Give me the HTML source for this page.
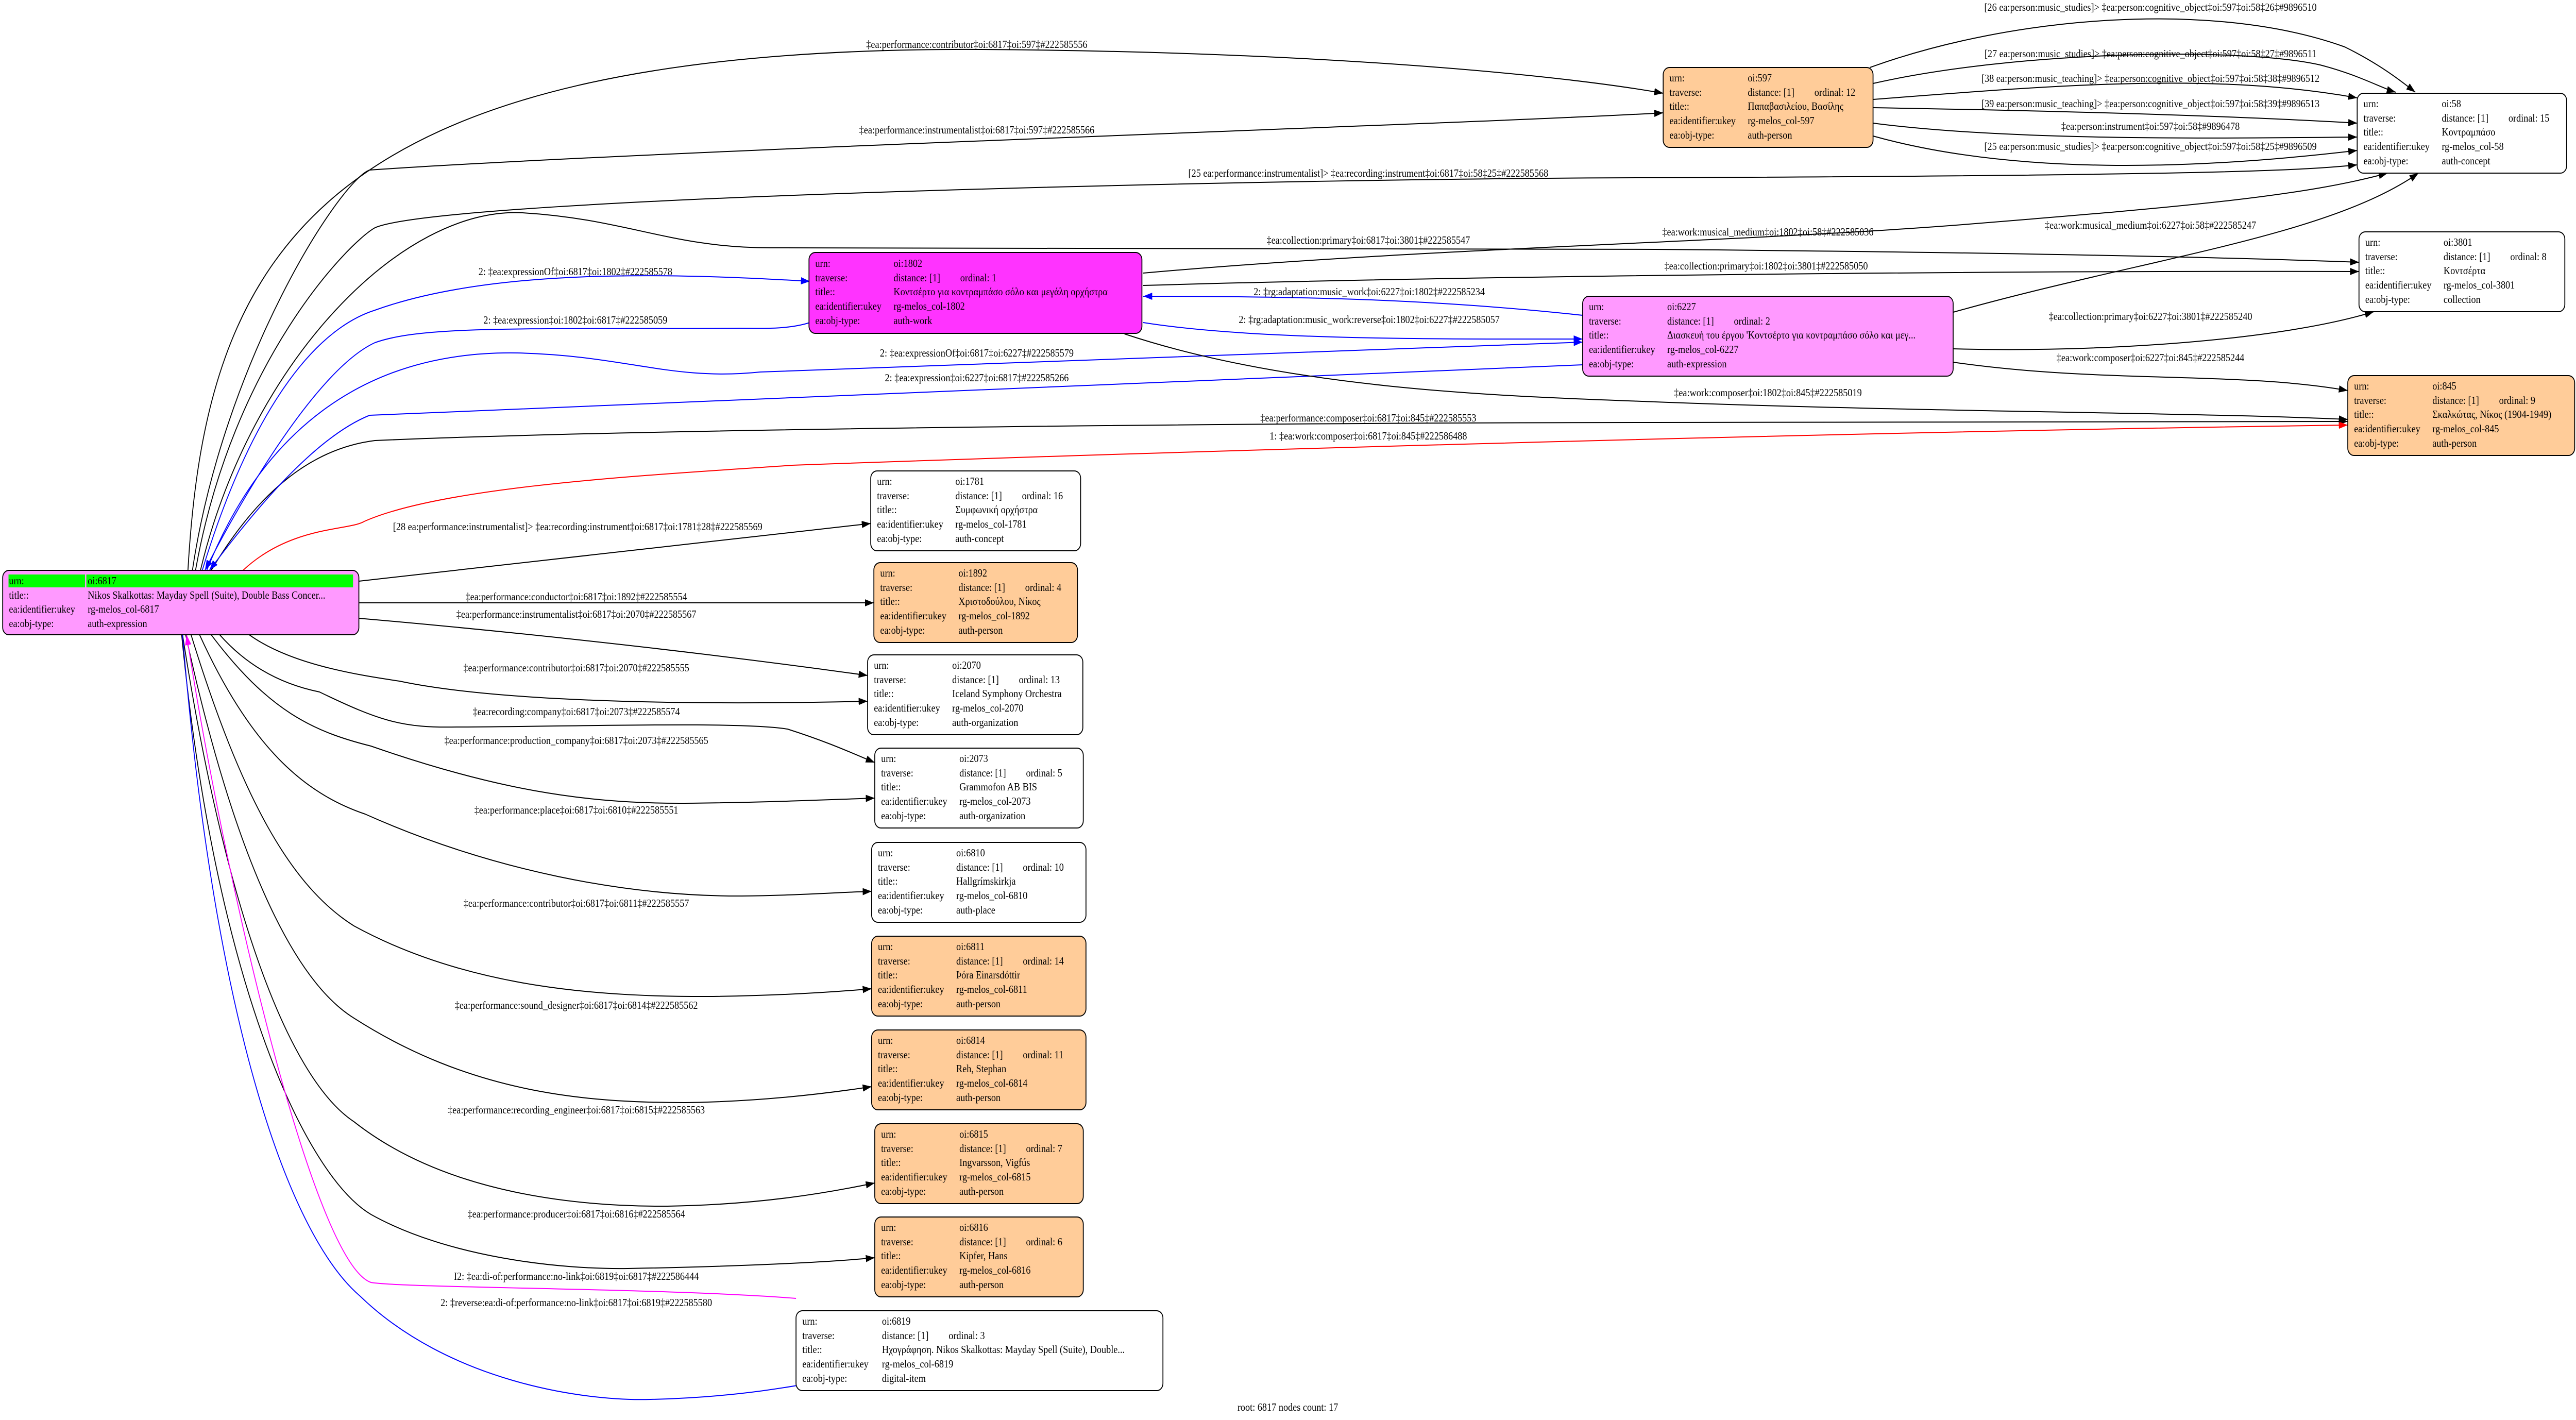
<!DOCTYPE html>
<html><head><meta charset="utf-8"><style>
html,body{margin:0;padding:0;background:#fff;overflow:hidden;width:100%;height:100%}
svg{display:block;width:100vw;height:100vh}
text{font-family:"Liberation Serif","Noto Serif CJK SC",serif;font-size:21px;fill:#000}
.l{text-anchor:middle}
</style></head><body>
<svg viewBox="0 0 5757 2756" preserveAspectRatio="none" xmlns="http://www.w3.org/2000/svg">
<defs>
<marker id="ak" markerUnits="userSpaceOnUse" markerWidth="22" markerHeight="16" refX="20" refY="7" orient="auto"><path d="M0,0 L20,7 L0,14 z" fill="#000"/></marker>
<marker id="ab" markerUnits="userSpaceOnUse" markerWidth="22" markerHeight="16" refX="20" refY="7" orient="auto"><path d="M0,0 L20,7 L0,14 z" fill="#00f"/></marker>
<marker id="ar" markerUnits="userSpaceOnUse" markerWidth="22" markerHeight="16" refX="20" refY="7" orient="auto"><path d="M0,0 L20,7 L0,14 z" fill="#f00"/></marker>
<marker id="am" markerUnits="userSpaceOnUse" markerWidth="22" markerHeight="16" refX="20" refY="7" orient="auto"><path d="M0,0 L20,7 L0,14 z" fill="#f0f"/></marker>
</defs>
<rect width="5757" height="2756" fill="#fff"/>

<g fill="none" stroke-width="2">
<path stroke="#000" marker-end="url(#ak)" d="M420,1107 C 460,500 700,90 2190,96 C 2900,100 3450,140 3717,181"/>
<path stroke="#000" marker-end="url(#ak)" d="M430,1107 C 500,700 760,350 826,330 C 1500,290 3300,240 3717,219"/>
<path stroke="#000" marker-end="url(#ak)" d="M437,1107 C 520,700 780,470 838,442 C 1000,380 3000,345 3700,345 C 5000,340 5150,330 5268,320"/>
<path stroke="#000" marker-end="url(#ak)" d="M448,1107 C 560,700 900,400 1168,413 C 1400,425 1500,481 1722,481 L 3700,484 C 4500,490 5000,500 5272,509"/>
<path stroke="#000" marker-end="url(#ak)" d="M472,1107 C 580,950 700,870 838,855 C 1500,830 3000,820 3700,820 L 5247,818"/>
<path stroke="#f00" marker-end="url(#ar)" d="M543,1107 C 650,1020 780,1030 814,1012 C 1000,940 1500,920 1770,903 C 2500,880 4000,840 5247,825"/>
<path stroke="#00f" marker-end="url(#ab)" d="M452,1107 C 560,800 700,640 838,602 C 1100,520 1500,530 1810,546"/>
<path stroke="#00f" marker-end="url(#ab)" d="M1810,626 C 1760,640 1700,637 1652,637 C 1200,640 950,630 838,665 C 700,720 520,1000 458,1107"/>
<path stroke="#00f" marker-end="url(#ab)" d="M462,1107 C 580,850 800,680 1156,685 C 1400,690 1500,740 1699,722 L 3537,664"/>
<path stroke="#00f" marker-end="url(#ab)" d="M3537,708 L 826,806 C 700,850 560,1000 468,1107"/>
<path stroke="#00f" marker-end="url(#ab)" d="M3537,612 C 3200,580 2900,575 2555,575"/>
<path stroke="#00f" marker-end="url(#ab)" d="M2555,626 C 2800,660 3200,658 3537,658"/>
<path stroke="#000" marker-end="url(#ak)" d="M2513,648 C 2900,760 3400,770 3700,780 C 4300,800 4900,800 5247,814"/>
<path stroke="#000" marker-end="url(#ak)" d="M2555,530 C 3200,480 3900,470 4400,435 C 4900,400 5150,380 5336,336"/>
<path stroke="#000" marker-end="url(#ak)" d="M4365,606 C 4800,500 5200,460 5405,336"/>
<path stroke="#000" marker-end="url(#ak)" d="M2555,554 C 3300,535 4500,525 5272,527"/>
<path stroke="#000" marker-end="url(#ak)" d="M4365,677 C 4700,685 5100,660 5305,605"/>
<path stroke="#000" marker-end="url(#ak)" d="M4365,703 C 4700,745 5000,720 5247,758"/>
<path stroke="#000" marker-end="url(#ak)" d="M4179,131 C 4500,30 4950,0 5240,91 C 5320,125 5370,160 5398,179"/>
<path stroke="#000" marker-end="url(#ak)" d="M4186,162 C 4500,100 5000,90 5185,126 C 5270,145 5320,170 5354,179"/>
<path stroke="#000" marker-end="url(#ak)" d="M4186,193 C 4600,165 4950,140 5268,190"/>
<path stroke="#000" marker-end="url(#ak)" d="M4186,209 C 4600,215 5000,225 5268,239"/>
<path stroke="#000" marker-end="url(#ak)" d="M4186,239 C 4500,275 5000,268 5268,266"/>
<path stroke="#000" marker-end="url(#ak)" d="M4186,264 C 4500,340 4900,330 5268,292"/>
<path stroke="#000" marker-end="url(#ak)" d="M802,1128 L 1946,1016"/>
<path stroke="#000" marker-end="url(#ak)" d="M802,1170 L 1953,1170"/>
<path stroke="#000" marker-end="url(#ak)" d="M802,1200 C 1200,1230 1600,1270 1939,1311"/>
<path stroke="#000" marker-end="url(#ak)" d="M557,1232 C 650,1290 800,1310 893,1322 C 1100,1360 1500,1370 1939,1361"/>
<path stroke="#000" marker-end="url(#ak)" d="M491,1232 C 560,1300 640,1330 714,1343 C 850,1400 900,1413 1020,1411 C 1300,1410 1650,1400 1760,1415 C 1850,1440 1900,1460 1955,1480"/>
<path stroke="#000" marker-end="url(#ak)" d="M472,1232 C 600,1380 700,1420 829,1448 C 1100,1530 1300,1560 1530,1559 C 1700,1558 1850,1552 1955,1549"/>
<path stroke="#000" marker-end="url(#ak)" d="M446,1232 C 560,1450 680,1540 816,1580 C 1100,1690 1400,1740 1658,1739 C 1780,1738 1870,1732 1948,1730"/>
<path stroke="#000" marker-end="url(#ak)" d="M427,1232 C 540,1550 650,1720 791,1797 C 1050,1920 1350,1935 1594,1934 C 1750,1932 1870,1925 1948,1919"/>
<path stroke="#000" marker-end="url(#ak)" d="M415,1232 C 520,1650 650,1900 791,1976 C 1050,2120 1300,2140 1531,2140 C 1700,2138 1850,2122 1948,2109"/>
<path stroke="#000" marker-end="url(#ak)" d="M408,1232 C 500,1750 640,2090 791,2177 C 1000,2320 1300,2342 1492,2341 C 1700,2338 1850,2315 1955,2296"/>
<path stroke="#000" marker-end="url(#ak)" d="M406,1232 C 480,1900 680,2280 829,2357 C 1000,2440 1250,2464 1403,2462 C 1650,2458 1850,2450 1955,2441"/>
<path stroke="#f0f" marker-end="url(#am)" d="M1779,2520 C 1500,2500 900,2500 829,2489 C 700,2450 500,1700 417,1232"/>
<path stroke="#00f" marker-end="url(#ab)" d="M408,1232 C 480,2000 650,2400 804,2515 C 1000,2680 1300,2720 1454,2716 C 1650,2712 1780,2690 1881,2673"/>
</g>

<g>
<text class="l" x="2183" y="93">‡ea:performance:contributor‡oi:6817‡oi:597‡#222585556</text>
<text class="l" x="2183" y="259">‡ea:performance:instrumentalist‡oi:6817‡oi:597‡#222585566</text>
<text class="l" x="3058" y="343">[25 ea:performance:instrumentalist]&gt; ‡ea:recording:instrument‡oi:6817‡oi:58‡25‡#222585568</text>
<text class="l" x="3058" y="473">‡ea:collection:primary‡oi:6817‡oi:3801‡#222585547</text>
<text class="l" x="3951" y="457">‡ea:work:musical_medium‡oi:1802‡oi:58‡#222585036</text>
<text class="l" x="3947" y="523">‡ea:collection:primary‡oi:1802‡oi:3801‡#222585050</text>
<text class="l" x="1286" y="534">2: ‡ea:expressionOf‡oi:6817‡oi:1802‡#222585578</text>
<text class="l" x="1286" y="628">2: ‡ea:expression‡oi:1802‡oi:6817‡#222585059</text>
<text class="l" x="3060" y="573">2: ‡rg:adaptation:music_work‡oi:6227‡oi:1802‡#222585234</text>
<text class="l" x="3060" y="627">2: ‡rg:adaptation:music_work:reverse‡oi:1802‡oi:6227‡#222585057</text>
<text class="l" x="2183" y="692">2: ‡ea:expressionOf‡oi:6817‡oi:6227‡#222585579</text>
<text class="l" x="2183" y="740">2: ‡ea:expression‡oi:6227‡oi:6817‡#222585266</text>
<text class="l" x="3951" y="769">‡ea:work:composer‡oi:1802‡oi:845‡#222585019</text>
<text class="l" x="3058" y="818">‡ea:performance:composer‡oi:6817‡oi:845‡#222585553</text>
<text class="l" x="3058" y="853">1: ‡ea:work:composer‡oi:6817‡oi:845‡#222586488</text>
<text class="l" x="4806" y="444">‡ea:work:musical_medium‡oi:6227‡oi:58‡#222585247</text>
<text class="l" x="4806" y="621">‡ea:collection:primary‡oi:6227‡oi:3801‡#222585240</text>
<text class="l" x="4806" y="701">‡ea:work:composer‡oi:6227‡oi:845‡#222585244</text>
<text class="l" x="4806" y="21">[26 ea:person:music_studies]&gt; ‡ea:person:cognitive_object‡oi:597‡oi:58‡26‡#9896510</text>
<text class="l" x="4806" y="111">[27 ea:person:music_studies]&gt; ‡ea:person:cognitive_object‡oi:597‡oi:58‡27‡#9896511</text>
<text class="l" x="4806" y="159">[38 ea:person:music_teaching]&gt; ‡ea:person:cognitive_object‡oi:597‡oi:58‡38‡#9896512</text>
<text class="l" x="4806" y="208">[39 ea:person:music_teaching]&gt; ‡ea:person:cognitive_object‡oi:597‡oi:58‡39‡#9896513</text>
<text class="l" x="4806" y="252">‡ea:person:instrument‡oi:597‡oi:58‡#9896478</text>
<text class="l" x="4806" y="291">[25 ea:person:music_studies]&gt; ‡ea:person:cognitive_object‡oi:597‡oi:58‡25‡#9896509</text>
<text class="l" x="1291" y="1029">[28 ea:performance:instrumentalist]&gt; ‡ea:recording:instrument‡oi:6817‡oi:1781‡28‡#222585569</text>
<text class="l" x="1288" y="1165">‡ea:performance:conductor‡oi:6817‡oi:1892‡#222585554</text>
<text class="l" x="1288" y="1199">‡ea:performance:instrumentalist‡oi:6817‡oi:2070‡#222585567</text>
<text class="l" x="1288" y="1303">‡ea:performance:contributor‡oi:6817‡oi:2070‡#222585555</text>
<text class="l" x="1288" y="1388">‡ea:recording:company‡oi:6817‡oi:2073‡#222585574</text>
<text class="l" x="1288" y="1444">‡ea:performance:production_company‡oi:6817‡oi:2073‡#222585565</text>
<text class="l" x="1288" y="1579">‡ea:performance:place‡oi:6817‡oi:6810‡#222585551</text>
<text class="l" x="1288" y="1760">‡ea:performance:contributor‡oi:6817‡oi:6811‡#222585557</text>
<text class="l" x="1288" y="1958">‡ea:performance:sound_designer‡oi:6817‡oi:6814‡#222585562</text>
<text class="l" x="1288" y="2161">‡ea:performance:recording_engineer‡oi:6817‡oi:6815‡#222585563</text>
<text class="l" x="1288" y="2363">‡ea:performance:producer‡oi:6817‡oi:6816‡#222585564</text>
<text class="l" x="1288" y="2484">I2: ‡ea:di-of:performance:no-link‡oi:6819‡oi:6817‡#222586444</text>
<text class="l" x="1288" y="2535">2: ‡reverse:ea:di-of:performance:no-link‡oi:6817‡oi:6819‡#222585580</text>
</g>

<g stroke="#000" stroke-width="2">
<rect x="3717" y="131" width="469" height="155" rx="14" fill="#ffcc99"/>
<rect x="5268" y="181" width="468" height="155" rx="14" fill="#fff"/>
<rect x="5272" y="450" width="460" height="155" rx="14" fill="#fff"/>
<rect x="1808" y="490" width="744" height="157" rx="14" fill="#ff33ff"/>
<rect x="3537" y="575" width="828" height="155" rx="14" fill="#ff99ff"/>
<rect x="5247" y="729" width="507" height="155" rx="14" fill="#ffcc99"/>
<rect x="1946" y="914" width="469" height="155" rx="14" fill="#fff"/>
<rect x="1953" y="1092" width="455" height="155" rx="14" fill="#ffcc99"/>
<rect x="1939" y="1271" width="481" height="155" rx="14" fill="#fff"/>
<rect x="1955" y="1452" width="466" height="155" rx="14" fill="#fff"/>
<rect x="1948" y="1635" width="479" height="155" rx="14" fill="#fff"/>
<rect x="1948" y="1817" width="479" height="155" rx="14" fill="#ffcc99"/>
<rect x="1948" y="1999" width="479" height="155" rx="14" fill="#ffcc99"/>
<rect x="1955" y="2181" width="466" height="155" rx="14" fill="#ffcc99"/>
<rect x="1955" y="2362" width="466" height="155" rx="14" fill="#ffcc99"/>
<rect x="1779" y="2544" width="820" height="155" rx="14" fill="#fff"/>
<rect x="6" y="1107" width="796" height="125" rx="14" fill="#ff99ff"/>
</g>
<rect x="19" y="1115" width="171" height="25" fill="#00ff00"/>
<rect x="193" y="1115" width="596" height="25" fill="#00ff00"/>

<g transform="translate(20,1107)"><text y="27">urn:</text><text y="55">title::</text><text y="82">ea:identifier:ukey</text><text y="110">ea:obj-type:</text>
<text x="176" y="27">oi:6817</text><text x="176" y="55">Nikos Skalkottas: Mayday Spell (Suite), Double Bass Concer...</text><text x="176" y="82">rg-melos_col-6817</text><text x="176" y="110">auth-expression</text></g>

<g transform="translate(3731,131)"><text y="27">urn:</text><text y="55">traverse:</text><text y="82">title::</text><text y="110">ea:identifier:ukey</text><text y="138">ea:obj-type:</text>
<text x="175" y="27">oi:597</text><text x="175" y="55">distance: [1]</text><text x="324" y="55">ordinal: 12</text><text x="175" y="82">Παπαβασιλείου, Βασίλης</text><text x="175" y="110">rg-melos_col-597</text><text x="175" y="138">auth-person</text></g>

<g transform="translate(5282,181)"><text y="27">urn:</text><text y="55">traverse:</text><text y="82">title::</text><text y="110">ea:identifier:ukey</text><text y="138">ea:obj-type:</text>
<text x="175" y="27">oi:58</text><text x="175" y="55">distance: [1]</text><text x="324" y="55">ordinal: 15</text><text x="175" y="82">Κοντραμπάσο</text><text x="175" y="110">rg-melos_col-58</text><text x="175" y="138">auth-concept</text></g>

<g transform="translate(5286,450)"><text y="27">urn:</text><text y="55">traverse:</text><text y="82">title::</text><text y="110">ea:identifier:ukey</text><text y="138">ea:obj-type:</text>
<text x="175" y="27">oi:3801</text><text x="175" y="55">distance: [1]</text><text x="324" y="55">ordinal: 8</text><text x="175" y="82">Κοντσέρτα</text><text x="175" y="110">rg-melos_col-3801</text><text x="175" y="138">collection</text></g>

<g transform="translate(1822,491)"><text y="27">urn:</text><text y="55">traverse:</text><text y="82">title::</text><text y="110">ea:identifier:ukey</text><text y="138">ea:obj-type:</text>
<text x="175" y="27">oi:1802</text><text x="175" y="55">distance: [1]</text><text x="324" y="55">ordinal: 1</text><text x="175" y="82">Κοντσέρτο για κοντραμπάσο σόλο και μεγάλη ορχήστρα</text><text x="175" y="110">rg-melos_col-1802</text><text x="175" y="138">auth-work</text></g>

<g transform="translate(3551,575)"><text y="27">urn:</text><text y="55">traverse:</text><text y="82">title::</text><text y="110">ea:identifier:ukey</text><text y="138">ea:obj-type:</text>
<text x="175" y="27">oi:6227</text><text x="175" y="55">distance: [1]</text><text x="324" y="55">ordinal: 2</text><text x="175" y="82">Διασκευή του έργου 'Κοντσέρτο για κοντραμπάσο σόλο και μεγ...</text><text x="175" y="110">rg-melos_col-6227</text><text x="175" y="138">auth-expression</text></g>

<g transform="translate(5261,729)"><text y="27">urn:</text><text y="55">traverse:</text><text y="82">title::</text><text y="110">ea:identifier:ukey</text><text y="138">ea:obj-type:</text>
<text x="175" y="27">oi:845</text><text x="175" y="55">distance: [1]</text><text x="324" y="55">ordinal: 9</text><text x="175" y="82">Σκαλκώτας, Νίκος (1904-1949)</text><text x="175" y="110">rg-melos_col-845</text><text x="175" y="138">auth-person</text></g>

<g transform="translate(1960,914)"><text y="27">urn:</text><text y="55">traverse:</text><text y="82">title::</text><text y="110">ea:identifier:ukey</text><text y="138">ea:obj-type:</text>
<text x="175" y="27">oi:1781</text><text x="175" y="55">distance: [1]</text><text x="324" y="55">ordinal: 16</text><text x="175" y="82">Συμφωνική ορχήστρα</text><text x="175" y="110">rg-melos_col-1781</text><text x="175" y="138">auth-concept</text></g>

<g transform="translate(1967,1092)"><text y="27">urn:</text><text y="55">traverse:</text><text y="82">title::</text><text y="110">ea:identifier:ukey</text><text y="138">ea:obj-type:</text>
<text x="175" y="27">oi:1892</text><text x="175" y="55">distance: [1]</text><text x="324" y="55">ordinal: 4</text><text x="175" y="82">Χριστοδούλου, Νίκος</text><text x="175" y="110">rg-melos_col-1892</text><text x="175" y="138">auth-person</text></g>

<g transform="translate(1953,1271)"><text y="27">urn:</text><text y="55">traverse:</text><text y="82">title::</text><text y="110">ea:identifier:ukey</text><text y="138">ea:obj-type:</text>
<text x="175" y="27">oi:2070</text><text x="175" y="55">distance: [1]</text><text x="324" y="55">ordinal: 13</text><text x="175" y="82">Iceland Symphony Orchestra</text><text x="175" y="110">rg-melos_col-2070</text><text x="175" y="138">auth-organization</text></g>

<g transform="translate(1969,1452)"><text y="27">urn:</text><text y="55">traverse:</text><text y="82">title::</text><text y="110">ea:identifier:ukey</text><text y="138">ea:obj-type:</text>
<text x="175" y="27">oi:2073</text><text x="175" y="55">distance: [1]</text><text x="324" y="55">ordinal: 5</text><text x="175" y="82">Grammofon AB BIS</text><text x="175" y="110">rg-melos_col-2073</text><text x="175" y="138">auth-organization</text></g>

<g transform="translate(1962,1635)"><text y="27">urn:</text><text y="55">traverse:</text><text y="82">title::</text><text y="110">ea:identifier:ukey</text><text y="138">ea:obj-type:</text>
<text x="175" y="27">oi:6810</text><text x="175" y="55">distance: [1]</text><text x="324" y="55">ordinal: 10</text><text x="175" y="82">Hallgrímskirkja</text><text x="175" y="110">rg-melos_col-6810</text><text x="175" y="138">auth-place</text></g>

<g transform="translate(1962,1817)"><text y="27">urn:</text><text y="55">traverse:</text><text y="82">title::</text><text y="110">ea:identifier:ukey</text><text y="138">ea:obj-type:</text>
<text x="175" y="27">oi:6811</text><text x="175" y="55">distance: [1]</text><text x="324" y="55">ordinal: 14</text><text x="175" y="82">Þóra Einarsdóttir</text><text x="175" y="110">rg-melos_col-6811</text><text x="175" y="138">auth-person</text></g>

<g transform="translate(1962,1999)"><text y="27">urn:</text><text y="55">traverse:</text><text y="82">title::</text><text y="110">ea:identifier:ukey</text><text y="138">ea:obj-type:</text>
<text x="175" y="27">oi:6814</text><text x="175" y="55">distance: [1]</text><text x="324" y="55">ordinal: 11</text><text x="175" y="82">Reh, Stephan</text><text x="175" y="110">rg-melos_col-6814</text><text x="175" y="138">auth-person</text></g>

<g transform="translate(1969,2181)"><text y="27">urn:</text><text y="55">traverse:</text><text y="82">title::</text><text y="110">ea:identifier:ukey</text><text y="138">ea:obj-type:</text>
<text x="175" y="27">oi:6815</text><text x="175" y="55">distance: [1]</text><text x="324" y="55">ordinal: 7</text><text x="175" y="82">Ingvarsson, Vigfús</text><text x="175" y="110">rg-melos_col-6815</text><text x="175" y="138">auth-person</text></g>

<g transform="translate(1969,2362)"><text y="27">urn:</text><text y="55">traverse:</text><text y="82">title::</text><text y="110">ea:identifier:ukey</text><text y="138">ea:obj-type:</text>
<text x="175" y="27">oi:6816</text><text x="175" y="55">distance: [1]</text><text x="324" y="55">ordinal: 6</text><text x="175" y="82">Kipfer, Hans</text><text x="175" y="110">rg-melos_col-6816</text><text x="175" y="138">auth-person</text></g>

<g transform="translate(1793,2544)"><text y="27">urn:</text><text y="55">traverse:</text><text y="82">title::</text><text y="110">ea:identifier:ukey</text><text y="138">ea:obj-type:</text>
<text x="178" y="27">oi:6819</text><text x="178" y="55">distance: [1]</text><text x="327" y="55">ordinal: 3</text><text x="178" y="82">Ηχογράφηση. Nikos Skalkottas: Mayday Spell (Suite), Double...</text><text x="178" y="110">rg-melos_col-6819</text><text x="178" y="138">digital-item</text></g>

<text class="l" x="2878" y="2738">root: 6817 nodes count: 17</text>
</svg>
</body></html>
